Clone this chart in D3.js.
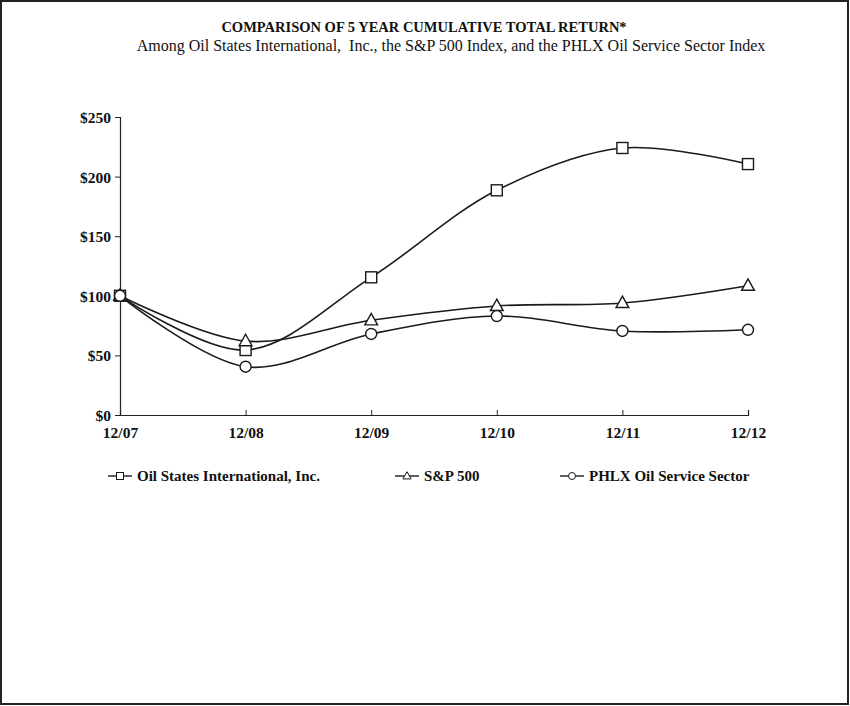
<!DOCTYPE html>
<html>
<head>
<meta charset="utf-8">
<script src="https://cdn.jsdelivr.net/npm/d3@7"></script>
<style>
  body { margin: 0; background: #fff; }
  svg text { font-family: "Liberation Serif", "Times New Roman", serif; fill: #111; }
</style>
</head>
<body>
<svg id="chart" width="850" height="706"></svg>
<script>
var periods = ["12/07", "12/08", "12/09", "12/10", "12/11", "12/12"];
var oilStates = [100, 54.5, 115.5, 188.5, 224, 210.5];
var sp500 = [100, 62, 79.5, 91.5, 94, 108.5];
var phlx = [100, 40.5, 68, 83, 70.5, 71.5];
var yTicks = [0, 50, 100, 150, 200, 250];

var seriesList = [
    {name: "Oil States International, Inc.", values: oilStates, marker: "square", lx: 108},
    {name: "S&P 500", values: sp500, marker: "triangle", lx: 395},
    {name: "PHLX Oil Service Sector", values: phlx, marker: "circle", lx: 560}
];

var svg = d3.select("#chart");

// frame
svg.append("rect")
    .attr("x", 1).attr("y", 1)
    .attr("width", 847).attr("height", 703)
    .attr("fill", "none").attr("stroke", "#222").attr("stroke-width", 2);

svg.append("text")
    .attr("x", 424).attr("y", 32)
    .attr("text-anchor", "middle")
    .attr("font-size", "14.5px").attr("font-weight", "bold")
    .text("COMPARISON OF 5 YEAR CUMULATIVE TOTAL RETURN*");
svg.append("text")
    .attr("x", 451).attr("y", 51)
    .attr("text-anchor", "middle")
    .attr("font-size", "16px")
    .style("white-space", "pre")
    .text("Among Oil States International,  Inc., the S&P 500 Index, and the PHLX Oil Service Sector Index");

var x = d3.scalePoint().domain(periods).range([120, 748]);
var y = d3.scaleLinear().domain([0, 250]).range([415, 117]);

var yAxis = svg.append("g")
    .attr("transform", "translate(120,0)")
    .call(d3.axisLeft(y).tickValues(yTicks).tickSize(5).tickPadding(4)
        .tickFormat(d => "$" + d));
var xAxis = svg.append("g")
    .attr("transform", "translate(0,415)")
    .call(d3.axisBottom(x).tickSize(-5).tickPadding(12));

[yAxis, xAxis].forEach(a => {
    a.select(".domain").attr("stroke", "#222").attr("stroke-width", 1.2);
    a.selectAll(".tick line").attr("stroke", "#222");
    a.selectAll("text")
        .attr("font-size", "15.5px").attr("font-weight", "bold")
        .attr("font-family", "Liberation Serif, serif").attr("fill", "#111");
});
yAxis.selectAll(".tick text").attr("dy", "0.35em");

var line = d3.line()
    .x((d, i) => x(periods[i]))
    .y(d => y(d))
    .curve(d3.curveCatmullRom.alpha(0.5));

function drawMarker(g, type, cx, cy, s) {
    if (type === "square") {
        g.append("rect").attr("x", cx - s / 2).attr("y", cy - s / 2)
            .attr("width", s).attr("height", s);
    } else if (type === "triangle") {
        g.append("path").attr("d", d3.line()([
            [cx, cy - s * 0.62], [cx + s * 0.58, cy + s * 0.42], [cx - s * 0.58, cy + s * 0.42]
        ]) + "Z");
    } else {
        g.append("circle").attr("cx", cx).attr("cy", cy).attr("r", s / 2);
    }
}

seriesList.forEach(s => {
    svg.append("path")
        .datum(s.values)
        .attr("d", line)
        .attr("fill", "none").attr("stroke", "#1a1a1a").attr("stroke-width", 1.6);
});
seriesList.forEach(s => {
    var g = svg.append("g")
        .attr("fill", "#fff").attr("stroke", "#1a1a1a").attr("stroke-width", 1.4);
    s.values.forEach((v, i) => drawMarker(g, s.marker, x(periods[i]), y(v), 11));
});

// legend
seriesList.forEach(s => {
    var ly = 476;
    svg.append("line")
        .attr("x1", s.lx).attr("x2", s.lx + 24)
        .attr("y1", ly).attr("y2", ly)
        .attr("stroke", "#1a1a1a").attr("stroke-width", 1.4);
    var g = svg.append("g")
        .attr("fill", "#fff").attr("stroke", "#1a1a1a").attr("stroke-width", 1);
    drawMarker(g, s.marker, s.lx + 12, ly, 7);
    svg.append("text")
        .attr("x", s.lx + 29).attr("y", ly + 5)
        .attr("font-size", "15px").attr("font-weight", "bold")
        .text(s.name);
});
</script>
</body>
</html>
